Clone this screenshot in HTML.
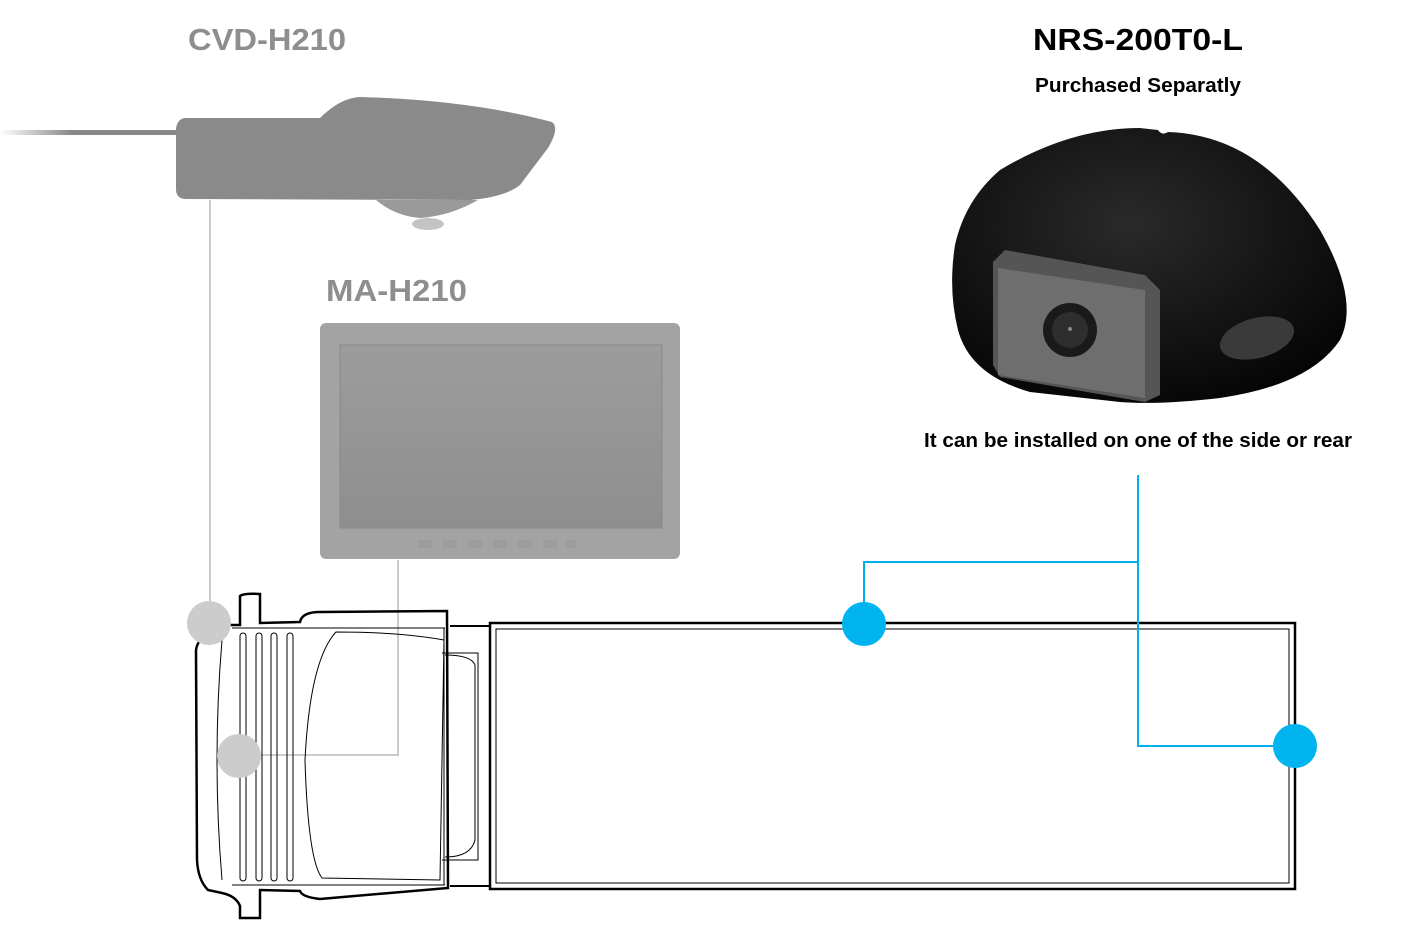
<!DOCTYPE html>
<html><head><meta charset="utf-8"><style>
html,body{margin:0;padding:0;background:#fff;}
body{width:1413px;height:921px;overflow:hidden;font-family:"Liberation Sans",sans-serif;}
</style></head><body>
<svg width="1413" height="921" viewBox="0 0 1413 921" xmlns="http://www.w3.org/2000/svg">
<defs>
<linearGradient id="cable" x1="0" x2="1"><stop offset="0" stop-color="#fff"/><stop offset="0.4" stop-color="#888"/><stop offset="1" stop-color="#888"/></linearGradient>
<linearGradient id="scr" x1="0" y1="0" x2="0" y2="1"><stop offset="0" stop-color="#9c9c9c"/><stop offset="1" stop-color="#8e8e8e"/></linearGradient>
<radialGradient id="blob" cx="0.45" cy="0.35" r="0.7"><stop offset="0" stop-color="#2a2a2a"/><stop offset="1" stop-color="#050505"/></radialGradient>
</defs>
<!-- titles -->
<text x="188" y="50" font-size="31" font-weight="bold" fill="#8e8e8e" textLength="158" lengthAdjust="spacingAndGlyphs">CVD-H210</text>
<text x="326" y="301" font-size="31" font-weight="bold" fill="#8e8e8e" textLength="141" lengthAdjust="spacingAndGlyphs">MA-H210</text>
<text x="1033" y="50" font-size="31" font-weight="bold" fill="#000" textLength="210" lengthAdjust="spacingAndGlyphs">NRS-200T0-L</text>
<text x="1035" y="92" font-size="20" font-weight="bold" fill="#000" textLength="206" lengthAdjust="spacingAndGlyphs">Purchased Separatly</text>
<text x="924" y="447" font-size="20" font-weight="bold" fill="#000" textLength="428" lengthAdjust="spacingAndGlyphs">It can be installed on one of the side or rear</text>

<!-- CVD camera -->
<rect x="0" y="130" width="180" height="5" fill="url(#cable)"/>
<path d="M186,118 L320,118 Q340,98 360,97 Q470,100 552,122 Q560,128 548,148 L520,185 Q505,197 470,200 L186,199 Q176,199 176,189 L176,128 Q178,118 186,118Z" fill="#8a8a8a"/>
<path d="M376,200 Q395,216 420,218 Q450,216 478,200Z" fill="#9a9a9a"/>
<ellipse cx="428" cy="224" rx="16" ry="6" fill="#c4c4c4"/>

<!-- monitor -->
<rect x="320" y="323" width="360" height="236" rx="6" fill="#a3a3a3"/>
<rect x="340" y="345" width="322" height="183" fill="url(#scr)" stroke="#8a8a8a"/>
<g fill="#9c9c9c"><rect x="418" y="540" width="14" height="8"/><rect x="443" y="540" width="14" height="8"/><rect x="468" y="540" width="14" height="8"/><rect x="493" y="540" width="14" height="8"/><rect x="518" y="540" width="14" height="8"/><rect x="543" y="540" width="14" height="8"/><rect x="566" y="540" width="10" height="8"/></g>

<!-- black camera -->
<path d="M1000,170 Q1070,128 1140,128 L1158,130 Q1162,136 1168,132 Q1260,135 1320,230 Q1360,300 1340,340 Q1310,385 1220,398 Q1160,405 1120,402 L1030,392 Q970,375 958,330 Q948,290 955,245 Q965,200 1000,170Z" fill="url(#blob)"/>
<path d="M993,262 L1005,250 L1145,275 L1160,290 L1160,395 L1145,402 L1000,377 L993,365Z" fill="#555"/>
<path d="M998,268 L1145,290 L1145,398 L998,375Z" fill="#6e6e6e"/>
<circle cx="1070" cy="330" r="27" fill="#1a1a1a"/>
<circle cx="1070" cy="330" r="18" fill="#2e2e2e"/>
<circle cx="1070" cy="329" r="2" fill="#888"/>
<ellipse cx="1257" cy="338" rx="38" ry="20" transform="rotate(-15 1257 338)" fill="#3a3a3a"/>

<!-- grey connectors -->
<g stroke="#cccccc" stroke-width="2" fill="none">
<path d="M210,200 V623"/>
<path d="M398,560 V755 H239"/>
</g>

<!-- truck -->
<g fill="none" stroke="#000">
<rect x="490" y="623" width="805" height="266" stroke-width="2.5"/>
<rect x="496" y="629" width="793" height="254" stroke-width="1"/>
<path d="M450,626 H490 M450,886 H490" stroke-width="2"/>
<path d="M442,653 H478 V860 H442" stroke-width="1"/>
<path d="M445,655 Q471,655 475,665 V840 Q471,857 445,857" stroke-width="1"/>
<path d="M240,625 L240,596 Q244,593 260,594 L260,623 L300,622 Q302,612 320,612 L447,611 L448,888 L320,899 Q302,897 300,891 L260,890 L260,918 L240,918 L240,906 Q236,896 222,893 L208,890 Q198,880 197,860 L196,650 Q198,635 222,625Z" stroke-width="2.5"/>
<path d="M232,628 H445 M232,885 H445 M444,628 V885" stroke-width="1"/>
<path d="M222,640 Q212,760 222,880" stroke-width="1"/>
<path d="M336,632 Q310,660 305,760 Q308,860 322,878 L440,880 L444,640 Q400,632 336,632Z" stroke-width="1"/>
<g stroke-width="1">
<rect x="240" y="633" width="6" height="248" rx="3"/>
<rect x="256" y="633" width="6" height="248" rx="3"/>
<rect x="271" y="633" width="6" height="248" rx="3"/>
<rect x="287" y="633" width="6" height="248" rx="3"/>
</g>
</g>

<!-- grey dots -->
<circle cx="209" cy="623" r="22" fill="#cccccc"/>
<circle cx="239" cy="756" r="22" fill="#cccccc"/>

<!-- blue connectors -->
<g stroke="#00b0ea" stroke-width="2" fill="none">
<path d="M1138,475 V746 H1295"/>
<path d="M1138,562 H864 V624"/>
</g>
<circle cx="864" cy="624" r="22" fill="#00b5ef"/>
<circle cx="1295" cy="746" r="22" fill="#00b5ef"/>
</svg>
</body></html>
